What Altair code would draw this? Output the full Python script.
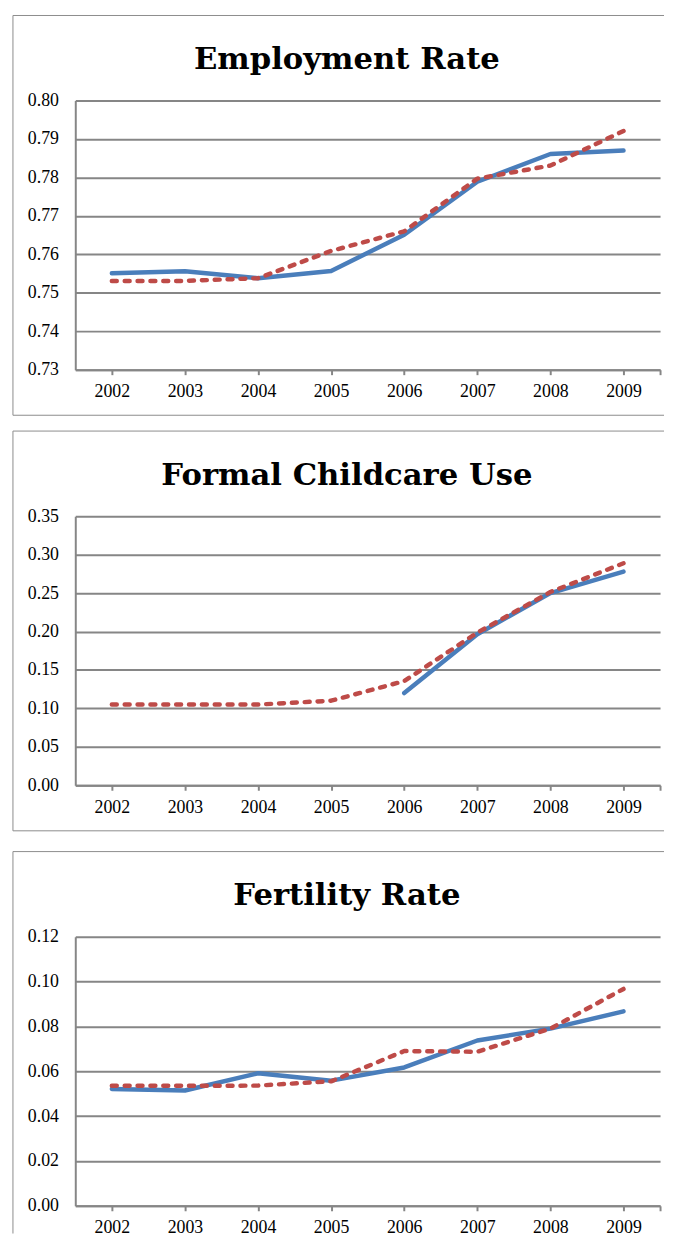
import altair as alt
import pandas as pd

years = [2002, 2003, 2004, 2005, 2006, 2007, 2008, 2009]

titles = ["Employment Rate", "Formal Childcare Use", "Fertility Rate"]

emp_blue = [0.7551, 0.7556, 0.7538, 0.7557, 0.7651, 0.7789, 0.7861, 0.7870]
emp_red = [0.7531, 0.7531, 0.7538, 0.7609, 0.7660, 0.7797, 0.7831, 0.7921]

care_blue = [None, None, None, None, 0.120, 0.1965, 0.250, 0.278]
care_red = [0.105, 0.105, 0.105, 0.110, 0.1355, 0.1986, 0.2514, 0.2887]

fert_blue = [0.0521, 0.0514, 0.0591, 0.0558, 0.0617, 0.0737, 0.0790, 0.0867]
fert_red = [0.0535, 0.0535, 0.0536, 0.0555, 0.0690, 0.0687, 0.0790, 0.0967]

emp_ticks = [0.73, 0.74, 0.75, 0.76, 0.77, 0.78, 0.79, 0.80]
care_ticks = [0.00, 0.05, 0.10, 0.15, 0.20, 0.25, 0.30, 0.35]
fert_ticks = [0.00, 0.02, 0.04, 0.06, 0.08, 0.10, 0.12]

BLUE = "#4A7EBB"
RED = "#BE4B48"
GRID = "#868686"
FRAME = "#8C8C8C"

PW = 591
PH = 272


def panel(title, blue, red, ticks, bottom_border=True):
    df_b = pd.DataFrame({"year": years, "value": blue}).dropna()
    df_r = pd.DataFrame({"year": years, "value": red})
    xenc = alt.X(
        "year:Q",
        scale=alt.Scale(domain=[2001.5, 2009.5], nice=False, zero=False),
        axis=alt.Axis(
            values=years + [2009.5],
            format="d",
            labelExpr="datum.value > 2009.2 ? '' : datum.label",
            title=None,
            grid=False,
            tickSize=5,
            labelPadding=8,
            labelFlush=False,
            labelOverlap=False,
        ),
    )
    yenc = alt.Y(
        "value:Q",
        scale=alt.Scale(domain=[ticks[0], ticks[-1]], nice=False, zero=False),
        axis=alt.Axis(
            values=ticks,
            format=".2f",
            title=None,
            grid=True,
            ticks=False,
            labelPadding=17,
            labelFlush=False,
            labelOverlap=False,
        ),
    )
    blue_line = alt.Chart(df_b).mark_line(
        color=BLUE, strokeWidth=4.5, strokeJoin="round", strokeCap="round"
    ).encode(x=xenc, y=yenc)
    red_line = alt.Chart(df_r).mark_line(
        color=RED, strokeWidth=4.5, strokeJoin="round", strokeCap="round",
        strokeDash=[5, 8]
    ).encode(x=xenc, y=yenc)

    fdf = pd.DataFrame({"k": [0]})
    top = alt.Chart(fdf).mark_rule(color=FRAME, strokeWidth=1).encode(
        x=alt.value(-63), x2=alt.value(595), y=alt.value(-86)
    )
    left = alt.Chart(fdf).mark_rule(color=FRAME, strokeWidth=1).encode(
        x=alt.value(-63), y=alt.value(-86), y2=alt.value(318 if bottom_border else 300)
    )
    head = alt.Chart(fdf).mark_text(
        text=title,
        font="DejaVu Serif",
        fontSize=31,
        fontWeight="bold",
        color="black",
        align="center",
        baseline="alphabetic",
    ).encode(x=alt.value(274.5), y=alt.value(-32))
    layers = [top, left]
    if bottom_border:
        bottom = alt.Chart(fdf).mark_rule(color=FRAME, strokeWidth=1).encode(
            x=alt.value(-63), x2=alt.value(595), y=alt.value(318)
        )
        layers.append(bottom)
    layers += [head, blue_line, red_line]

    return alt.layer(*layers).properties(width=PW, height=PH)


p1 = panel(titles[0], emp_blue, emp_red, emp_ticks)
p2 = panel(titles[1], care_blue, care_red, care_ticks)
p3 = panel(titles[2], fert_blue, fert_red, fert_ticks, bottom_border=False)

chart = (
    alt.vconcat(alt.vconcat(p1, p2, spacing=14), p3, spacing=19)
    .properties(padding={"left": 4, "top": 0, "right": 0, "bottom": 0}, background="white")
    .configure_view(stroke=None)
    .configure_axis(
        domainColor=GRID,
        domainWidth=2,
        gridColor=GRID,
        gridWidth=2,
        tickColor=GRID,
        tickWidth=2,
        labelFont="Liberation Serif",
        labelFontSize=18,
        labelColor="black",
    )
)

chart.save("out.html", embed_options={"renderer": "svg", "actions": False})
